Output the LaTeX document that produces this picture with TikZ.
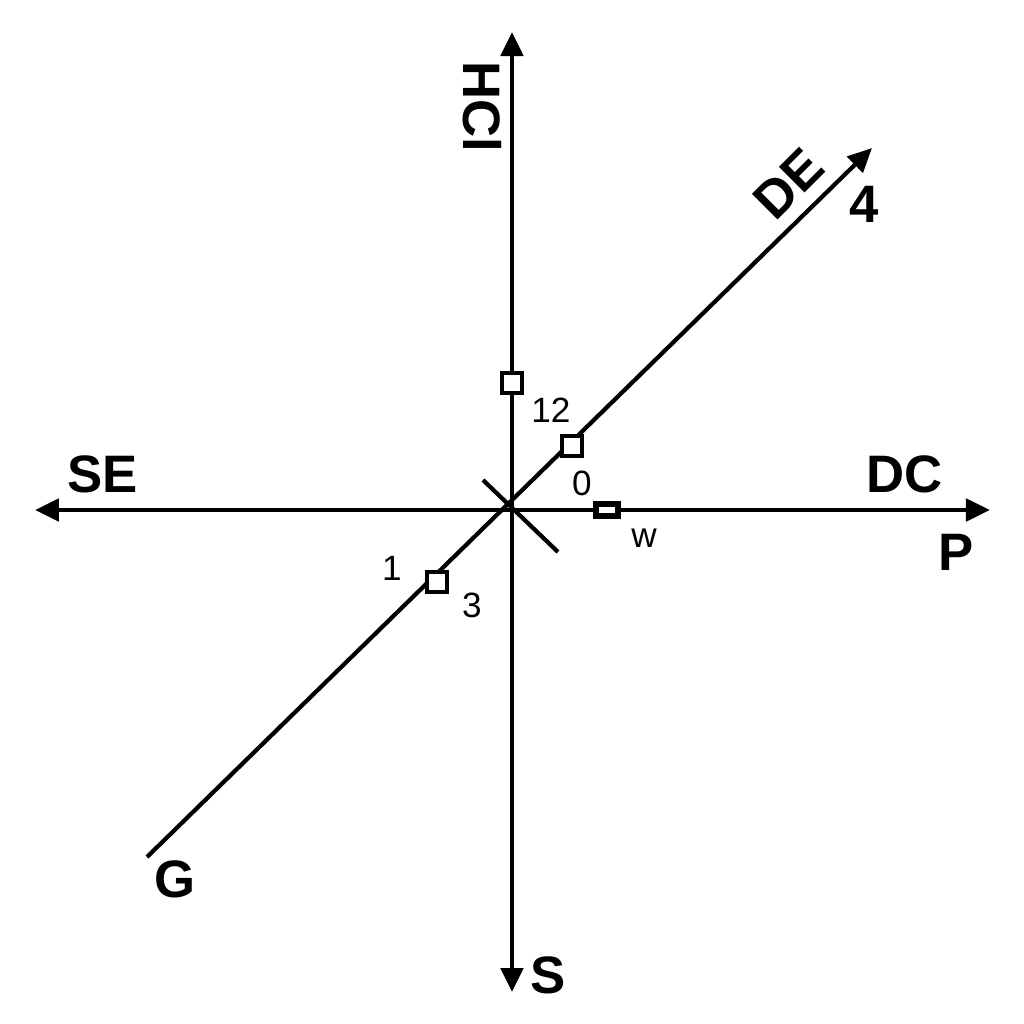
\documentclass[tikz,border=0pt]{standalone}
\usepackage{fontspec}
\setmainfont{Liberation Sans}
\usetikzlibrary{arrows.meta}
\begin{document}
\begin{tikzpicture}
[>={Triangle[length=2.4mm,width=2.2mm]},
 axis/.style = {line width=1.4pt},
 tick/.style = {draw, line width=1.2pt, fill=white, inner sep=0pt, minimum size=2mm},
 big/.style = {font=\fontsize{15}{18}\selectfont\bfseries},
 small/.style = {font=\fontsize{10}{12}\selectfont},]

\useasboundingbox (-5.12,-5.14) rectangle (5.12,5.10);
\fill[white] (-5.12,-5.14) rectangle (5.12,5.10);

\coordinate (O) at (0,0);
\coordinate (T) at (0,4.78);
\coordinate (B) at (0,-4.82);
\coordinate (L) at (-4.77,0);
\coordinate (R) at (4.78,0);
\coordinate (NE) at (3.60,3.62);
\coordinate (SW) at (-3.65,-3.47);
\coordinate (X1) at (-0.29,0.30);
\coordinate (X2) at (0.46,-0.42);

\draw [axis,->] (O)--(T);
\draw [axis,->] (O)--(B);
\draw [axis,->] (O)--(L);
\draw [axis,->] (O)--(R);
\draw [line width=1.2pt,->] (SW)--(NE);
\draw [line width=1.2pt] (X1)--(X2);

% marks on the lines
\node (m12) at (0,1.27)[tick] {};
\node (m0) at (0.60,0.64)[tick] {};
\node (mw) at (0.95,0)[tick,line width=1.5pt,minimum width=2.2mm,minimum height=1.2mm] {};
\node (m1) at (-0.75,-0.72)[tick] {};

\node [small] at (0.39,1.00){12};
\node [small] at (0.70,0.27){0};
\node [small] at (1.32,-0.28){w};
\node [small] at (-1.20,-0.58){1};
\node [small] at (-0.40,-0.95){3};

% axis names
\node [big,rotate=-90] at (-0.30,4.03){HCl};
\node [big,rotate=45,inner sep=0pt] at (2.77,3.26){DE};
\node [big,inner sep=1pt] at (3.52,3.06){4};
\node [big] at (-4.09,0.36){SE};
\node [big] at (3.93,0.36){DC};
\node [big] at (4.44,-0.42){P};
\node [big] at (-3.37,-3.69){G};
\node [big] at (0.36,-4.65){S};

\end{tikzpicture}
\end{document}
